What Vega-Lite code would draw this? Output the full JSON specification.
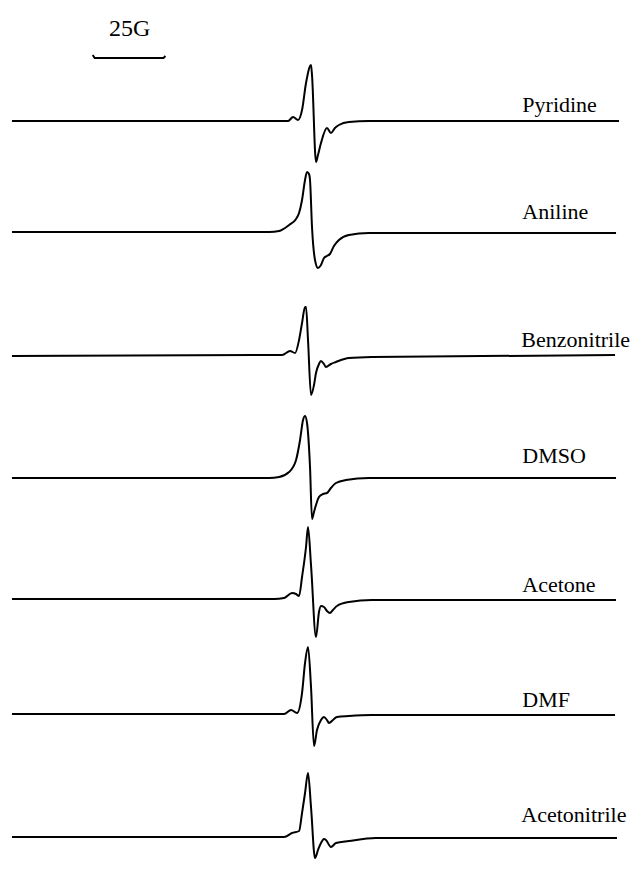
{
  "$schema": "https://vega.github.io/schema/vega-lite/v6.json",
  "width": 630,
  "height": 890,
  "autosize": {"type": "fit", "contains": "padding"},
  "padding": 0,
  "background": "white",
  "config": {"view": {"stroke": null}},
  "datasets": {
    "spectra": [
      {"s": "Pyridine", "x": 12, "y": 121}, {"s": "Pyridine", "x": 270, "y": 121}, {"s": "Pyridine", "x": 289, "y": 121}, {"s": "Pyridine", "x": 294, "y": 117}, {"s": "Pyridine", "x": 299, "y": 120}, {"s": "Pyridine", "x": 303, "y": 110}, {"s": "Pyridine", "x": 307, "y": 83}, {"s": "Pyridine", "x": 312, "y": 65}, {"s": "Pyridine", "x": 313, "y": 75}, {"s": "Pyridine", "x": 317, "y": 162}, {"s": "Pyridine", "x": 319, "y": 155}, {"s": "Pyridine", "x": 322, "y": 143}, {"s": "Pyridine", "x": 328, "y": 128}, {"s": "Pyridine", "x": 332, "y": 133}, {"s": "Pyridine", "x": 336, "y": 128}, {"s": "Pyridine", "x": 340, "y": 125}, {"s": "Pyridine", "x": 350, "y": 122}, {"s": "Pyridine", "x": 370, "y": 121}, {"s": "Pyridine", "x": 621, "y": 121},
      {"s": "Aniline", "x": 12, "y": 232}, {"s": "Aniline", "x": 270, "y": 232}, {"s": "Aniline", "x": 280, "y": 231}, {"s": "Aniline", "x": 290, "y": 225}, {"s": "Aniline", "x": 297, "y": 219}, {"s": "Aniline", "x": 300, "y": 213}, {"s": "Aniline", "x": 303, "y": 200}, {"s": "Aniline", "x": 306, "y": 180}, {"s": "Aniline", "x": 308, "y": 172}, {"s": "Aniline", "x": 310, "y": 174}, {"s": "Aniline", "x": 311, "y": 180}, {"s": "Aniline", "x": 313, "y": 227}, {"s": "Aniline", "x": 316, "y": 260}, {"s": "Aniline", "x": 319, "y": 268}, {"s": "Aniline", "x": 322, "y": 265}, {"s": "Aniline", "x": 325, "y": 258}, {"s": "Aniline", "x": 328, "y": 256}, {"s": "Aniline", "x": 331, "y": 254}, {"s": "Aniline", "x": 335, "y": 246}, {"s": "Aniline", "x": 340, "y": 240}, {"s": "Aniline", "x": 350, "y": 235}, {"s": "Aniline", "x": 370, "y": 233}, {"s": "Aniline", "x": 618, "y": 233},
      {"s": "Benzonitrile", "x": 12, "y": 356}, {"s": "Benzonitrile", "x": 275, "y": 355}, {"s": "Benzonitrile", "x": 283, "y": 355}, {"s": "Benzonitrile", "x": 291, "y": 351}, {"s": "Benzonitrile", "x": 296, "y": 353}, {"s": "Benzonitrile", "x": 300, "y": 340}, {"s": "Benzonitrile", "x": 303, "y": 323}, {"s": "Benzonitrile", "x": 306, "y": 307}, {"s": "Benzonitrile", "x": 307, "y": 307}, {"s": "Benzonitrile", "x": 309, "y": 340}, {"s": "Benzonitrile", "x": 312, "y": 395}, {"s": "Benzonitrile", "x": 315, "y": 385}, {"s": "Benzonitrile", "x": 317, "y": 373}, {"s": "Benzonitrile", "x": 320, "y": 364}, {"s": "Benzonitrile", "x": 322, "y": 361}, {"s": "Benzonitrile", "x": 325, "y": 364}, {"s": "Benzonitrile", "x": 327, "y": 367}, {"s": "Benzonitrile", "x": 332, "y": 364}, {"s": "Benzonitrile", "x": 337, "y": 362}, {"s": "Benzonitrile", "x": 350, "y": 358}, {"s": "Benzonitrile", "x": 373, "y": 357}, {"s": "Benzonitrile", "x": 617, "y": 355},
      {"s": "DMSO", "x": 12, "y": 478}, {"s": "DMSO", "x": 270, "y": 478}, {"s": "DMSO", "x": 280, "y": 477}, {"s": "DMSO", "x": 290, "y": 472}, {"s": "DMSO", "x": 297, "y": 460}, {"s": "DMSO", "x": 301, "y": 440}, {"s": "DMSO", "x": 304, "y": 420}, {"s": "DMSO", "x": 306, "y": 416}, {"s": "DMSO", "x": 308, "y": 423}, {"s": "DMSO", "x": 311, "y": 467}, {"s": "DMSO", "x": 313, "y": 519}, {"s": "DMSO", "x": 315, "y": 512}, {"s": "DMSO", "x": 317, "y": 505}, {"s": "DMSO", "x": 320, "y": 497}, {"s": "DMSO", "x": 324, "y": 494}, {"s": "DMSO", "x": 328, "y": 493}, {"s": "DMSO", "x": 332, "y": 488}, {"s": "DMSO", "x": 337, "y": 483}, {"s": "DMSO", "x": 347, "y": 480}, {"s": "DMSO", "x": 370, "y": 478}, {"s": "DMSO", "x": 618, "y": 478},
      {"s": "Acetone", "x": 12, "y": 599}, {"s": "Acetone", "x": 275, "y": 599}, {"s": "Acetone", "x": 285, "y": 598}, {"s": "Acetone", "x": 293, "y": 593}, {"s": "Acetone", "x": 297, "y": 594}, {"s": "Acetone", "x": 300, "y": 596}, {"s": "Acetone", "x": 303, "y": 577}, {"s": "Acetone", "x": 307, "y": 547}, {"s": "Acetone", "x": 309, "y": 527}, {"s": "Acetone", "x": 312, "y": 565}, {"s": "Acetone", "x": 317, "y": 637}, {"s": "Acetone", "x": 320, "y": 612}, {"s": "Acetone", "x": 322, "y": 606}, {"s": "Acetone", "x": 325, "y": 607}, {"s": "Acetone", "x": 328, "y": 611}, {"s": "Acetone", "x": 331, "y": 613}, {"s": "Acetone", "x": 334, "y": 610}, {"s": "Acetone", "x": 338, "y": 606}, {"s": "Acetone", "x": 350, "y": 602}, {"s": "Acetone", "x": 373, "y": 600}, {"s": "Acetone", "x": 618, "y": 600},
      {"s": "DMF", "x": 12, "y": 714}, {"s": "DMF", "x": 275, "y": 714}, {"s": "DMF", "x": 285, "y": 714}, {"s": "DMF", "x": 292, "y": 710}, {"s": "DMF", "x": 298, "y": 713}, {"s": "DMF", "x": 303, "y": 693}, {"s": "DMF", "x": 306, "y": 663}, {"s": "DMF", "x": 309, "y": 647}, {"s": "DMF", "x": 312, "y": 687}, {"s": "DMF", "x": 315, "y": 746}, {"s": "DMF", "x": 318, "y": 730}, {"s": "DMF", "x": 322, "y": 720}, {"s": "DMF", "x": 325, "y": 717}, {"s": "DMF", "x": 328, "y": 720}, {"s": "DMF", "x": 330, "y": 723}, {"s": "DMF", "x": 334, "y": 720}, {"s": "DMF", "x": 338, "y": 717}, {"s": "DMF", "x": 350, "y": 716}, {"s": "DMF", "x": 373, "y": 715}, {"s": "DMF", "x": 617, "y": 715},
      {"s": "Acetonitrile", "x": 12, "y": 837}, {"s": "Acetonitrile", "x": 275, "y": 837}, {"s": "Acetonitrile", "x": 285, "y": 837}, {"s": "Acetonitrile", "x": 293, "y": 833}, {"s": "Acetonitrile", "x": 300, "y": 831}, {"s": "Acetonitrile", "x": 303, "y": 813}, {"s": "Acetonitrile", "x": 306, "y": 793}, {"s": "Acetonitrile", "x": 309, "y": 773}, {"s": "Acetonitrile", "x": 312, "y": 807}, {"s": "Acetonitrile", "x": 316, "y": 858}, {"s": "Acetonitrile", "x": 319, "y": 850}, {"s": "Acetonitrile", "x": 322, "y": 843}, {"s": "Acetonitrile", "x": 325, "y": 839}, {"s": "Acetonitrile", "x": 327, "y": 840}, {"s": "Acetonitrile", "x": 332, "y": 847}, {"s": "Acetonitrile", "x": 337, "y": 843}, {"s": "Acetonitrile", "x": 350, "y": 841}, {"s": "Acetonitrile", "x": 377, "y": 838}, {"s": "Acetonitrile", "x": 619, "y": 838}
    ],
    "labels": [
      {"label": "Pyridine", "x": 524, "y": 112},
      {"label": "Aniline", "x": 524, "y": 219},
      {"label": "Benzonitrile", "x": 523, "y": 347},
      {"label": "DMSO", "x": 524, "y": 463},
      {"label": "Acetone", "x": 524, "y": 592},
      {"label": "DMF", "x": 524, "y": 707},
      {"label": "Acetonitrile", "x": 523, "y": 822}
    ],
    "scalebar": [
      {"x": 93, "y": 55}, {"x": 95, "y": 58}, {"x": 164, "y": 58}, {"x": 166, "y": 56}
    ],
    "scaletext": [
      {"label": "25G", "x": 130, "y": 36}
    ]
  },
  "layer": [
    {
      "data": {"name": "spectra"},
      "mark": {"type": "line", "color": "black", "strokeWidth": 2, "strokeJoin": "round", "interpolate": "monotone"},
      "encoding": {
        "x": {"field": "x", "type": "quantitative", "scale": {"domain": [0, 630]}, "axis": null},
        "y": {"field": "y", "type": "quantitative", "scale": {"domain": [0, 890], "reverse": true}, "axis": null},
        "detail": {"field": "s"}
      }
    },
    {
      "data": {"name": "scalebar"},
      "mark": {"type": "line", "color": "black", "strokeWidth": 2},
      "encoding": {
        "x": {"field": "x", "type": "quantitative", "scale": {"domain": [0, 630]}, "axis": null},
        "y": {"field": "y", "type": "quantitative", "scale": {"domain": [0, 890], "reverse": true}, "axis": null}
      }
    },
    {
      "data": {"name": "labels"},
      "mark": {"type": "text", "align": "left", "baseline": "alphabetic", "font": "Liberation Serif", "fontSize": 22, "color": "black"},
      "encoding": {
        "x": {"field": "x", "type": "quantitative", "scale": {"domain": [0, 630]}, "axis": null},
        "y": {"field": "y", "type": "quantitative", "scale": {"domain": [0, 890], "reverse": true}, "axis": null},
        "text": {"field": "label"}
      }
    },
    {
      "data": {"name": "scaletext"},
      "mark": {"type": "text", "align": "center", "baseline": "alphabetic", "font": "Liberation Serif", "fontSize": 24, "color": "black"},
      "encoding": {
        "x": {"field": "x", "type": "quantitative", "scale": {"domain": [0, 630]}, "axis": null},
        "y": {"field": "y", "type": "quantitative", "scale": {"domain": [0, 890], "reverse": true}, "axis": null},
        "text": {"field": "label"}
      }
    }
  ]
}
